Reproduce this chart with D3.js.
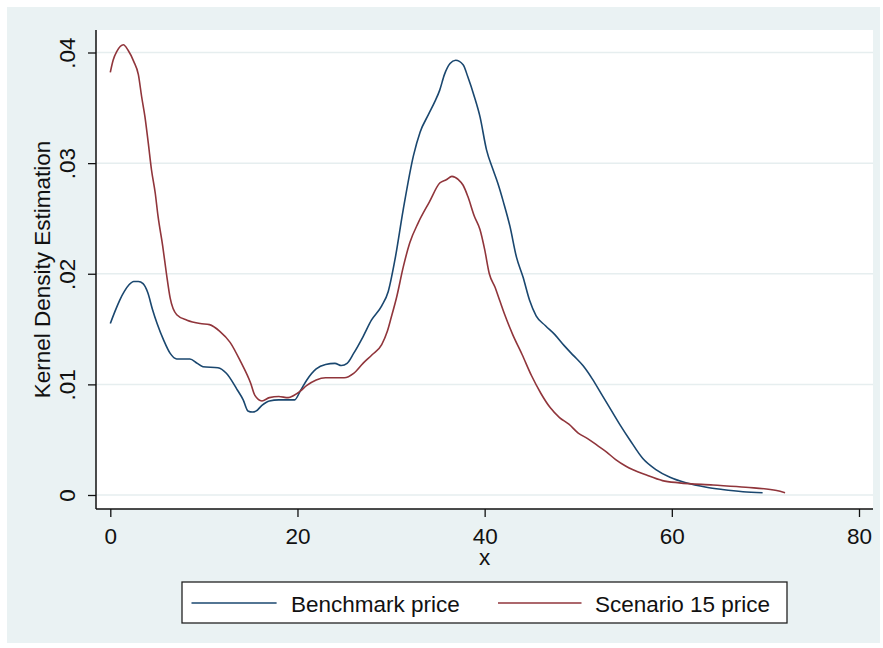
<!DOCTYPE html>
<html>
<head>
<meta charset="utf-8">
<script src="https://cdn.jsdelivr.net/npm/d3@7"></script>
<style>
  body { margin: 0; background: #fff; }
  text { font-family: Arial, "Liberation Sans", sans-serif; fill: #111; }
</style>
</head>
<body>
<svg id="chart" width="883" height="648"></svg>
<script>
// --- Data ---
const benchmark = [
  [0,.0155],[0.5,.0166],[1,.0176],[1.5,.0184],[2,.0190],[2.5,.0193],[3,.0193],[3.5,.0191],[4,.0183],
  [4.5,.0168],[5,.0155],[5.7,.0140],[6.4,.0128],[7.1,.0123],[8.5,.0123],[9.3,.0119],[9.9,.0116],
  [11.5,.0115],[12.4,.0110],[13.5,.0096],[14.2,.0086],[14.7,.0076],[15.2,.0075],[15.6,.0076],
  [16.2,.0081],[17,.0085],[18,.0086],[19.7,.0086],[20.3,.0094],[21,.0104],[22,.0114],[23,.0118],
  [24,.0119],[24.7,.0117],[25.3,.0119],[26,.0128],[27,.0143],[27.9,.0158],[29,.0171],[29.7,.0184],
  [30.4,.0212],[31.3,.0258],[32.4,.0307],[33.1,.0328],[34,.0344],[34.7,.0356],[35.2,.0366],
  [35.7,.0380],[36.3,.0390],[36.9,.0393],[37.7,.0389],[38.2,.0378],[38.9,.0360],[39.5,.0342],
  [40.2,.0312],[40.9,.0294],[41.4,.0282],[42,.0265],[42.7,.0243],[43.4,.0215],[44.1,.0197],
  [44.8,.0176],[45.5,.0162],[46.5,.0153],[47.5,.0145],[48.5,.0135],[49.5,.0126],[50.5,.0117],
  [51.5,.0105],[52.5,.0091],[53.5,.0077],[54.5,.0063],[55.5,.0050],[56.9,.0033],[58.3,.0023],
  [59.8,.0016],[61.5,.0011],[63.7,.0007],[65.4,.0005],[67.6,.0003],[69.7,.0002]
];
const scenario = [
  [0,.0382],[0.3,.0393],[0.7,.0401],[1.4,.0407],[1.9,.0402],[2.5,.0392],[3,.0380],[3.35,.0360],
  [3.7,.0342],[4.06,.0318],[4.4,.0294],[4.8,.0273],[5.1,.0252],[5.6,.0225],[6,.0200],[6.4,.0178],
  [7.1,.0163],[8.2,.0158],[9.6,.0155],[10.6,.0154],[11.7,.0148],[12.8,.0138],[13.9,.0121],
  [15,.0101],[15.45,.0090],[16.2,.0085],[17,.0088],[18,.0089],[19,.0088],[19.6,.0090],[20.3,.0094],
  [21,.0099],[22,.0104],[23,.0106],[24,.0106],[25,.0106],[26,.0110],[27,.0119],[28,.0127],
  [29,.0136],[29.6,.0148],[30,.0160],[30.6,.0179],[31.3,.0206],[32,.0228],[32.9,.0246],
  [34.1,.0265],[35.2,.0282],[35.9,.0285],[36.5,.0288],[37.2,.0285],[37.7,.0280],[38.2,.0270],
  [38.9,.0252],[39.5,.0240],[40,.0222],[40.5,.0200],[41.1,.0188],[41.6,.0176],[42.1,.0164],
  [43,.0145],[44,.0127],[45,.0108],[46,.0092],[47,.0079],[48,.0070],[49,.0064],[50,.0056],
  [51,.0051],[52,.0045],[53,.0039],[54,.0032],[55.1,.0026],[57.3,.0018],[59,.0013],[60.8,.0011],
  [64.4,.0009],[67.9,.0007],[71.2,.0004],[72.1,.0002]
];
const seriesNames  = ["Benchmark price", "Scenario 15 price"];
const seriesColors = ["#1a476f", "#90353b"];
const xTicks = [0, 20, 40, 60, 80];
const yTicks = [0, .01, .02, .03, .04];
const yTickLabels = ["0", ".01", ".02", ".03", ".04"];

// --- Layout ---
const svg = d3.select("#chart");
const plot = {l: 96, r: 873, t: 30, b: 509};
const x = d3.scaleLinear().domain([0, 80]).range([110.3, 859]);
const y = d3.scaleLinear().domain([0, .04]).range([495, 52.5]);
const FS = 22.5;

// graph region + plot region
svg.append("rect").attr("x", 7).attr("y", 7).attr("width", 873).attr("height", 636).attr("fill", "#eaf2f3");
svg.append("rect").attr("x", plot.l).attr("y", plot.t)
  .attr("width", plot.r - plot.l).attr("height", plot.b - plot.t).attr("fill", "#fff");

// gridlines
svg.append("g").selectAll("line").data(yTicks).join("line")
  .attr("x1", plot.l).attr("x2", plot.r)
  .attr("y1", d => y(d)).attr("y2", d => y(d))
  .attr("stroke", "#e6eeef").attr("stroke-width", 1.5);

// x axis
const gx = svg.append("g").attr("transform", `translate(0,${plot.b})`)
  .call(d3.axisBottom(x).tickValues(xTicks).tickSize(8).tickFormat(d3.format("d")));
gx.select(".domain").remove();
gx.selectAll(".tick line").attr("stroke", "#111").attr("stroke-width", 1.3);
gx.selectAll(".tick text").attr("dy", null).attr("y", 34.5)
  .style("font-size", FS + "px").attr("fill", "#111");
gx.append("line").attr("x1", plot.l).attr("x2", plot.r).attr("stroke", "#111").attr("stroke-width", 1.5);

// y axis
const gy = svg.append("g").attr("transform", `translate(${plot.l},0)`)
  .call(d3.axisLeft(y).tickValues(yTicks).tickSize(8).tickFormat((d, i) => yTickLabels[i]));
gy.select(".domain").remove();
gy.selectAll(".tick line").attr("stroke", "#111").attr("stroke-width", 1.3);
gy.selectAll(".tick text").attr("x", null).attr("dy", null)
  .attr("transform", "translate(-21,0) rotate(-90)")
  .attr("text-anchor", "middle")
  .style("font-size", FS + "px").attr("fill", "#111");
gy.append("line").attr("y1", plot.t).attr("y2", plot.b).attr("stroke", "#111").attr("stroke-width", 1.5);

// axis titles
svg.append("text").attr("transform", `translate(50,${(plot.t + plot.b) / 2}) rotate(-90)`)
  .attr("text-anchor", "middle").style("font-size", FS + "px").text("Kernel Density Estimation");
svg.append("text").attr("x", (plot.l + plot.r) / 2).attr("y", 565)
  .attr("text-anchor", "middle").style("font-size", FS + "px").text("x");

// density lines
const line = d3.line().x(d => x(d[0])).y(d => y(d[1])).curve(d3.curveMonotoneX);
[benchmark, scenario].forEach((s, i) => {
  svg.append("path").datum(s).attr("d", line)
    .attr("fill", "none").attr("stroke", seriesColors[i]).attr("stroke-width", 1.6);
});

// legend
const lg = svg.append("g");
lg.append("rect").attr("x", 182).attr("y", 582).attr("width", 605).attr("height", 41)
  .attr("fill", "#fff").attr("stroke", "#222").attr("stroke-width", 1.3);
const items = [{x1: 191.5, x2: 276.6, tx: 291}, {x1: 498, x2: 581.5, tx: 595}];
items.forEach((it, i) => {
  lg.append("line").attr("x1", it.x1).attr("x2", it.x2).attr("y1", 603).attr("y2", 603)
    .attr("stroke", seriesColors[i]).attr("stroke-width", 1.6);
  lg.append("text").attr("x", it.tx).attr("y", 611.5).style("font-size", FS + "px").text(seriesNames[i]);
});
</script>
</body>
</html>
